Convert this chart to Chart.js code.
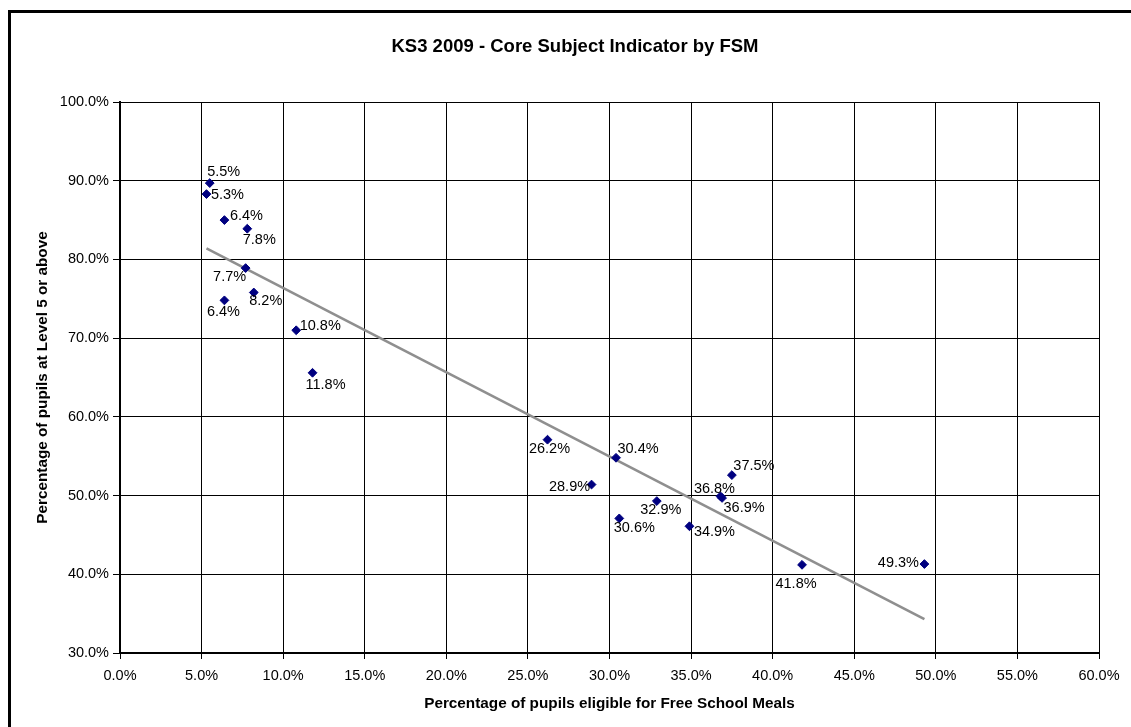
<!DOCTYPE html>
<html>
<head>
<meta charset="utf-8">
<title>KS3 2009 - Core Subject Indicator by FSM</title>
<script src="https://cdn.jsdelivr.net/npm/chart.js@4/dist/chart.umd.min.js"></script>
<style>
  html, body { margin: 0; padding: 0; background: #fff; overflow: hidden; }
  #wrap { position: absolute; left: 0; top: 0; width: 1131px; height: 727px; }
</style>
</head>
<body>
<div id="wrap"><canvas id="chart" width="1131" height="727"></canvas></div>
<script>
// Percentage of pupils eligible for free school meals, per school
const fsmPct = [5.5, 5.3, 6.4, 7.8, 7.7, 8.2, 6.4, 10.8, 11.8, 26.2, 30.4, 28.9, 37.5, 36.8, 36.9, 32.9, 30.6, 34.9, 41.8, 49.3];
// Percentage of pupils at Level 5 or above (core subject indicator)
const level5Pct = [89.7, 88.3, 85.0, 83.9, 78.9, 75.8, 74.8, 71.0, 65.6, 57.1, 54.8, 51.4, 52.6, 49.9, 49.7, 49.3, 47.1, 46.1, 41.2, 41.3];
// Linear trend line end points
const trendX = [5.3, 49.3];
const trendY = [81.4, 34.3];
// Axis ranges and tick steps
const xTicks = { min: 0, max: 60, step: 5 };
const yTicks = { min: 30, max: 100, step: 10 };

const chartTitle = 'KS3 2009 - Core Subject Indicator by FSM';
const xTitle = 'Percentage of pupils eligible for Free School Meals';
const yTitle = 'Percentage of pupils at Level 5 or above';

// Where each data label sits relative to its marker (pixels)
const labelOffsets = [
  [14, -11], [21, 1], [22, -4], [12, 11], [-16, 9], [12, 9], [-1, 12], [24, -4], [13, 12],
  [2, 9], [22, -9], [-22, 2], [22, -9], [-6, -7], [22, 10], [4, 9], [15, 10], [25, 6], [-6, 19], [-26, -1]
];

const FONT = "'Liberation Sans', Arial, Helvetica, sans-serif";
const pct1 = v => Number(v).toFixed(1) + '%';

const points = fsmPct.map((x, i) => ({ x: x, y: level5Pct[i] }));
const trend = trendX.map((x, i) => ({ x: x, y: trendY[i] }));

const framePlugin = {
  id: 'frame',
  beforeDraw(chart) {
    const ctx = chart.ctx;
    ctx.save();
    ctx.fillStyle = '#fff';
    ctx.fillRect(0, 0, chart.width, chart.height);
    ctx.fillStyle = '#000';
    ctx.fillRect(8, 10, 3, chart.height);
    ctx.fillRect(8, 10, chart.width, 3);
    ctx.restore();
  },
  afterDraw(chart) {
    const ctx = chart.ctx;
    ctx.save();
    ctx.font = 'bold 18.5px ' + FONT;
    ctx.fillStyle = '#000';
    ctx.textAlign = 'center';
    ctx.textBaseline = 'middle';
    ctx.fillText(chartTitle, 575, 47);
    ctx.restore();
  }
};

const labelPlugin = {
  id: 'pointLabels',
  afterDatasetsDraw(chart) {
    const meta = chart.getDatasetMeta(1);
    const ctx = chart.ctx;
    ctx.save();
    ctx.font = '14.5px ' + FONT;
    ctx.fillStyle = '#000';
    ctx.textAlign = 'center';
    ctx.textBaseline = 'middle';
    meta.data.forEach((el, i) => {
      const off = labelOffsets[i] || [0, 0];
      ctx.fillText(pct1(fsmPct[i]), el.x + off[0], el.y + off[1]);
    });
    ctx.restore();
  }
};

new Chart(document.getElementById('chart'), {
  type: 'scatter',
  data: {
    datasets: [
      {
        type: 'line',
        label: 'Linear trend',
        data: trend,
        borderColor: '#8f8f8f',
        borderWidth: 2.6,
        pointRadius: 0,
        fill: false,
        order: 2
      },
      {
        label: 'Schools',
        data: points,
        pointStyle: 'rectRot',
        pointRadius: 4.4,
        backgroundColor: '#000080',
        borderColor: '#000080',
        borderWidth: 1,
        order: 1
      }
    ]
  },
  options: {
    responsive: false,
    animation: false,
    layout: { padding: { top: 102, right: 32, left: 0, bottom: 0 } },
    plugins: {
      legend: { display: false },
      title: { display: false },
      tooltip: { enabled: false }
    },
    scales: {
      x: {
        type: 'linear',
        min: xTicks.min,
        max: xTicks.max,
        afterFit(scale) { scale.height = 74; },
        ticks: {
          stepSize: xTicks.step,
          padding: 8,
          color: '#000',
          font: { family: FONT, size: 14.5 },
          callback: v => pct1(v)
        },
        grid: { color: '#000', lineWidth: 1, tickLength: 6, drawTicks: true },
        border: { display: true, color: '#000', width: 2 },
        title: {
          display: true,
          text: xTitle,
          color: '#000',
          font: { family: FONT, size: 15.3, weight: 'bold' },
          padding: { top: 0, bottom: 14 }
        }
      },
      y: {
        type: 'linear',
        min: yTicks.min,
        max: yTicks.max,
        afterFit(scale) { scale.width = 120; },
        ticks: {
          stepSize: yTicks.step,
          padding: 4,
          color: '#000',
          font: { family: FONT, size: 14.5 },
          callback: v => pct1(v)
        },
        grid: { color: '#000', lineWidth: 1, tickLength: 7, drawTicks: true },
        border: { display: true, color: '#000', width: 2 },
        title: {
          display: true,
          text: yTitle,
          color: '#000',
          font: { family: FONT, size: 15.3, weight: 'bold' },
          padding: { top: 34, bottom: 0 }
        }
      }
    }
  },
  plugins: [framePlugin, labelPlugin]
});
</script>
</body>
</html>
